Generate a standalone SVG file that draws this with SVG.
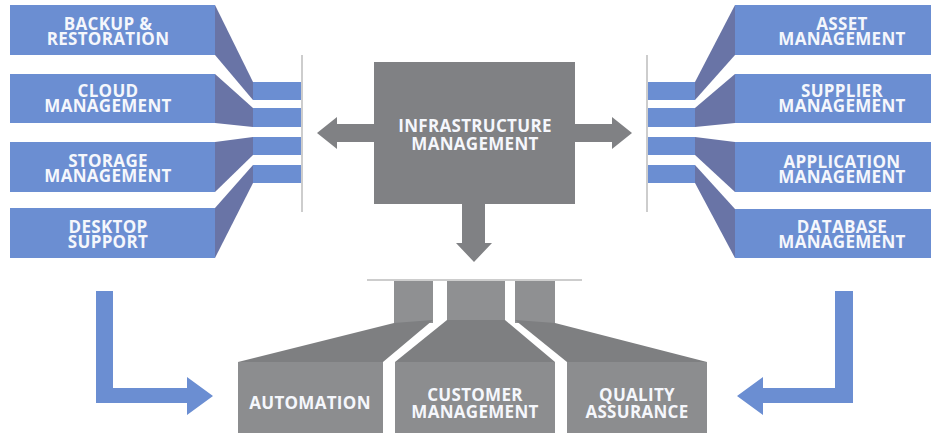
<svg xmlns="http://www.w3.org/2000/svg" width="931" height="433" viewBox="0 0 931 433">
<style>
.bg{fill:#ffffff}
.bbox{fill:#6b8ed2}
.bbar{fill:#6b8ed2}
.blink{fill:#6974a6}
.gbox{fill:#8c8d8f}
.gbar{fill:#8f9092}
.glink{fill:#7e7f81}
.core{fill:#808184}
.garrow{fill:#808184}
.barrow{fill:#6b8ed2}
.rule{stroke:#bdbdbd;stroke-width:1.5;fill:none}
text{font-family:"Open Sans","DejaVu Sans",sans-serif;font-weight:700;fill:#f5f7fc;text-anchor:middle;font-size:17px;letter-spacing:0.3px}
</style>
<rect class="bg" x="0" y="0" width="931" height="433"/>
<line class="rule" x1="302" y1="55" x2="302" y2="212"/>
<line class="rule" x1="647" y1="55" x2="647" y2="212"/>
<line class="rule" x1="367" y1="280" x2="582" y2="280"/>

<g id="backup">
<polygon class="blink" points="215,5 253,82 253,100 215,55"/>
<rect class="bbar" x="253" y="82" width="48" height="18"/>
<rect class="bbox" x="10" y="5" width="205" height="50"/>
<text x="108" y="30">BACKUP &amp;</text>
<text x="108" y="45">RESTORATION</text>
</g>
<g id="cloud">
<polygon class="blink" points="215,74 253,108 253,127 215,123"/>
<rect class="bbar" x="253" y="108" width="48" height="19"/>
<rect class="bbox" x="10" y="74" width="205" height="49"/>
<text x="108" y="97">CLOUD</text>
<text x="108" y="112">MANAGEMENT</text>
</g>
<g id="storage">
<polygon class="blink" points="215,142 253,137 253,155 215,192"/>
<rect class="bbar" x="253" y="137" width="48" height="18"/>
<rect class="bbox" x="10" y="142" width="205" height="50"/>
<text x="108" y="167">STORAGE</text>
<text x="108" y="182">MANAGEMENT</text>
</g>
<g id="desktop">
<polygon class="blink" points="215,208 253,165 253,183 215,258"/>
<rect class="bbar" x="253" y="165" width="48" height="18"/>
<rect class="bbox" x="10" y="208" width="205" height="50"/>
<text x="108" y="233">DESKTOP</text>
<text x="108" y="248">SUPPORT</text>
</g>

<g id="asset">
<polygon class="blink" points="735,5 695,82 695,100 735,55"/>
<rect class="bbar" x="648" y="82" width="47" height="18"/>
<rect class="bbox" x="735" y="5" width="196" height="50"/>
<text x="842" y="30">ASSET</text>
<text x="842" y="45">MANAGEMENT</text>
</g>
<g id="supplier">
<polygon class="blink" points="735,74 695,108 695,127 735,123"/>
<rect class="bbar" x="648" y="108" width="47" height="19"/>
<rect class="bbox" x="735" y="74" width="196" height="49"/>
<text x="842" y="97">SUPPLIER</text>
<text x="842" y="112">MANAGEMENT</text>
</g>
<g id="application">
<polygon class="blink" points="735,142 695,137 695,155 735,192"/>
<rect class="bbar" x="648" y="137" width="47" height="18"/>
<rect class="bbox" x="735" y="142" width="196" height="50"/>
<text x="842" y="168">APPLICATION</text>
<text x="842" y="183">MANAGEMENT</text>
</g>
<g id="database">
<polygon class="blink" points="735,209 695,165 695,183 735,258"/>
<rect class="bbar" x="648" y="165" width="47" height="18"/>
<rect class="bbox" x="735" y="209" width="196" height="49"/>
<text x="842" y="233">DATABASE</text>
<text x="842" y="248">MANAGEMENT</text>
</g>

<g id="infrastructure">
<rect class="core" x="374" y="62" width="201" height="142"/>
<text x="475" y="132">INFRASTRUCTURE</text>
<text x="475" y="150">MANAGEMENT</text>
</g>

<g id="automation">
<rect class="gbar" x="394" y="281" width="39" height="42"/>
<polygon class="glink" points="394,323 433,320 383,362 238,362"/>
<rect class="gbox" x="238" y="362" width="145" height="71"/>
<text x="310" y="409">AUTOMATION</text>
</g>
<g id="customer">
<rect class="gbar" x="447" y="281" width="58" height="42"/>
<polygon class="glink" points="447,320 505,320 555,362 395,362"/>
<rect class="gbox" x="395" y="362" width="160" height="71"/>
<text x="475" y="401">CUSTOMER</text>
<text x="475" y="418">MANAGEMENT</text>
</g>
<g id="quality">
<rect class="gbar" x="515" y="281" width="40" height="42"/>
<polygon class="glink" points="515,320 555,323 707,362 567,362"/>
<rect class="gbox" x="567" y="362" width="140" height="71"/>
<text x="637" y="401">QUALITY</text>
<text x="637" y="418">ASSURANCE</text>
</g>

<g id="connectors">
<polygon class="garrow" points="375,124 337,124 337,117 317,133 337,149 337,142 375,142"/>
<polygon class="garrow" points="574,124 612,124 612,117 632,133 612,149 612,142 574,142"/>
<polygon class="garrow" points="462,203 485,203 485,243 492,243 474,262 456,243 462,243"/>
<polygon class="barrow" points="96,291 113,291 113,388 187,388 187,377 213,396 187,415 187,403 96,403"/>
<polygon class="barrow" points="853,291 835,291 835,388 763,388 763,377 737,396 763,415 763,403 853,403"/>
</g>
</svg>
